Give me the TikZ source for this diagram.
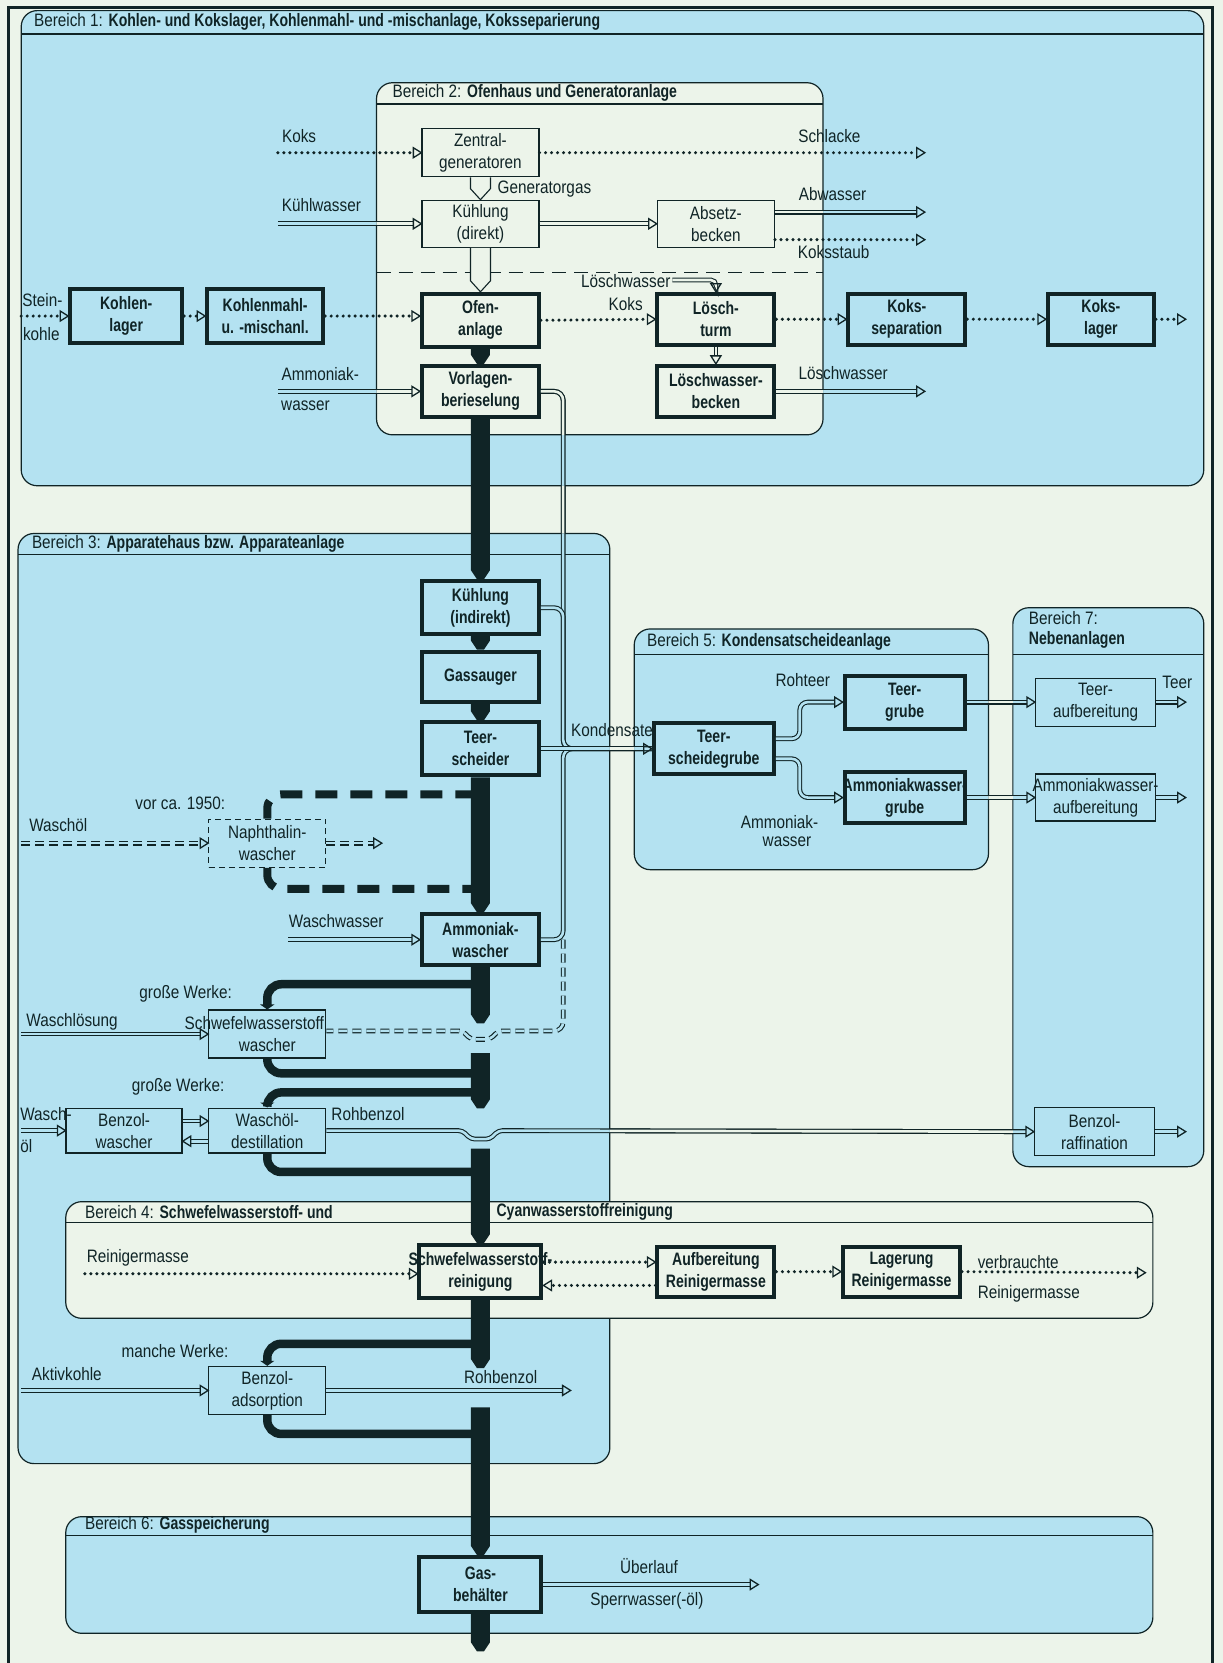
\documentclass[tikz,border=0pt]{standalone}
\usepackage{fontspec}
\setmainfont{Liberation Sans}[FakeStretch=0.85, BoldFeatures={FakeStretch=0.78}]
\usetikzlibrary{calc,arrows.meta}
\definecolor{bgc}{RGB}{236,244,234}
\definecolor{blu}{RGB}{180,226,241}
\definecolor{ink}{RGB}{16,36,38}
\newcommand\gasseg[2]{\fill[ink] let \p1=(#1), \p2=(#2) in (\x1-9.5pt,\y1) -- (\x1+9.5pt,\y1) -- (\x1+9.5pt,\y2+9pt) -- (\x1+3.5pt,\y2) -- (\x1-3.5pt,\y2) -- (\x1-9.5pt,\y2+9pt) -- cycle;}
\newcommand\hollowfun[2]{\draw[ink, line width=1.1pt, fill=bgc] let \p1=(#1), \p2=(#2) in (\x1-10pt,\y1) -- (\x1-10pt,\y2+11pt) -- (\x1,\y2) -- (\x1+10pt,\y2+11pt) -- (\x1+10pt,\y1);}
\newcommand\wide[1]{\makebox[0pt]{#1}}
\tikzset{
  lbl/.style={font=\fontsize{18}{21}\selectfont, inner sep=0pt, align=center, text=ink},
  hdr/.style={font=\fontsize{18}{21}\selectfont, inner sep=0pt, anchor=west, text=ink},
  thinbox/.style={draw=ink, line width=1.2pt, align=center, inner sep=0.5pt, text=ink, font=\fontsize{18}{22}\selectfont},
  boldbox/.style={draw=ink, line width=4pt, align=center, inner sep=0.5pt, text=ink, font=\fontsize{18}{22}\selectfont\bfseries},
  sz/.style 2 args={minimum width=#1, minimum height=#2},
  region/.style={draw=ink, line width=1.2pt, rounded corners=16pt},
  hline/.style={draw=ink, line width=1.2pt},
  dblB/.style={draw=ink, double=blu, double distance=2.6pt, line width=1.1pt},
  dblC/.style={draw=ink, double=bgc, double distance=2.6pt, line width=1.1pt},
  dotl/.style={draw=ink, line width=3.4pt, dash pattern=on 0pt off 6pt, line cap=round},
  te/.style={shorten >=8pt},
  br/.style={draw=ink, line width=8.5pt, rounded corners=14pt},
  brtip/.style={-{Triangle[length=5pt,width=14pt]}},
  brd/.style={draw=ink, line width=8pt, rounded corners=14pt, dash pattern=on 22pt off 13pt},
  otip/.pic={\draw[ink, line width=1.3pt, line join=miter] (0pt,0pt) -- (-8pt,5pt) -- (-8pt,-5pt) -- cycle;}
}
\begin{document}
\begin{tikzpicture}[x=1.0607pt, y=-1.0607pt]
\useasboundingbox (0,0) rectangle (1153,1568);
\fill[bgc] (0,0) rectangle (1153,1568);

% ---------- regions ----------
\filldraw[region, fill=blu] (20,10) rectangle (1135,458);
\draw[hline] (20,32) -- (1135,32);
\filldraw[region, fill=bgc] (355,78) rectangle (776,410);
\draw[hline] (355,98) -- (776,98);
\draw[ink, line width=1.1pt, dash pattern=on 14pt off 8pt] (355,257) -- (776,257);
\filldraw[region, fill=blu] (17,503) rectangle (575,1380);
\draw[hline] (17,523) -- (575,523);
\filldraw[region, fill=blu] (598,593) rectangle (932,820);
\draw[hline] (598,617) -- (932,617);
\filldraw[region, fill=blu] (955,573) rectangle (1135,1100);
\draw[hline] (955,617) -- (1135,617);
\filldraw[region, fill=bgc] (62,1133) rectangle (1087,1243);
\draw[hline] (62,1153) -- (1087,1153);
\filldraw[region, fill=blu] (62,1430) rectangle (1087,1540);
\draw[hline] (62,1448) -- (1087,1448);

\node[hdr] (h1) at (32,21) {Bereich 1: \textbf{Kohlen- und Kokslager, Kohlenmahl- und -mischanlage, Koksseparierung}};
\node[hdr] (h2) at (370,88) {Bereich 2: \textbf{Ofenhaus und Generatoranlage}};
\node[hdr] (h3) at (30,513) {Bereich 3: \textbf{Apparatehaus bzw. Apparateanlage}};
\node[hdr] (h4a) at (80,1143) {Bereich 4: \textbf{Schwefelwasserstoff- und}};
\node[hdr] (h4b) at (468,1143) {\textbf{Cyanwasserstoffreinigung}};
\node[hdr] (h5) at (610,605) {Bereich 5: \textbf{Kondensatscheideanlage}};
\node[hdr] (h6) at (80,1438) {Bereich 6: \textbf{Gasspeicherung}};
\node[hdr] (h7a) at (970,583) {Bereich 7:};
\node[hdr] (h7b) at (970,603) {\textbf{Nebenanlagen}};

% ---------- nodes ----------
\node[thinbox, sz={117pt}{48pt}] (zg) at (453,144) {Zentral-\\generatoren};
\node[thinbox, sz={117pt}{47pt}] (kd) at (453,211) {Kühlung\\(direkt)};
\node[thinbox, sz={117pt}{47pt}] (ab) at (675,211) {Absetz-\\becken};
\node[boldbox, sz={112pt}{54pt}] (kl) at (119,298) {Kohlen-\\lager};
\node[boldbox, sz={116pt}{54pt}] (km) at (250,298) {Kohlenmahl-\\u. -mischanl.};
\node[boldbox, sz={117pt}{53pt}] (of) at (453,302) {Ofen-\\anlage};
\node[boldbox, sz={117pt}{51pt}] (lt) at (675,301) {Lösch-\\turm};
\node[boldbox, sz={117pt}{51pt}] (ks) at (855,301) {Koks-\\separation};
\node[boldbox, sz={106pt}{51pt}] (kla) at (1038,301) {Koks-\\lager};
\node[boldbox, sz={117pt}{51pt}] (vb) at (453,369) {Vorlagen-\\berieselung};
\node[boldbox, sz={117pt}{51pt}] (lwb) at (675,369) {Löschwasser-\\becken};

\node[boldbox, sz={117pt}{53pt}] (ki) at (453,573) {Kühlung\\(indirekt)};
\node[boldbox, sz={117pt}{50pt}] (gs) at (453,638) {Gassauger};
\node[boldbox, sz={117pt}{53pt}] (ts) at (453,706) {Teer-\\scheider};
\node[thinbox, dash pattern=on 6pt off 4pt, sz={117pt}{48pt}] (nw) at (252,795) {Naphthalin-\\wascher};
\node[boldbox, sz={117pt}{51pt}] (am) at (453,886) {Ammoniak-\\wascher};
\node[thinbox, sz={117pt}{48pt}] (hw) at (252,975) {\wide{Schwefelwasserstoff\hspace{26pt}}\\wascher};
\node[thinbox, sz={116pt}{45pt}] (bw) at (117,1066) {Benzol-\\wascher};
\node[thinbox, sz={117pt}{45pt}] (wd) at (252,1066) {Waschöl-\\destillation};
\node[thinbox, sz={117pt}{48pt}] (ba) at (252,1311) {Benzol-\\adsorption};

\node[boldbox, sz={122pt}{53pt}] (hr) at (453,1199) {\wide{Schwefelwasserstoff-}\\reinigung};
\node[boldbox, sz={117pt}{50pt}] (au) at (675,1199) {Aufbereitung\\Reinigermasse};
\node[boldbox, sz={117pt}{50pt}] (lg) at (850,1199) {Lagerung\\Reinigermasse};
\node[boldbox, sz={122pt}{55pt}] (gb) at (453,1494) {Gas-\\behälter};

\node[boldbox, sz={120pt}{51pt}] (tsg) at (673,706) {Teer-\\scheidegrube};
\node[boldbox, sz={120pt}{53pt}] (tg) at (853,662) {Teer-\\grube};
\node[boldbox, sz={120pt}{51pt}] (ag) at (853,752) {\wide{Ammoniakwasser-}\\grube};
\node[thinbox, sz={120pt}{48pt}] (ta) at (1033,662) {Teer-\\aufbereitung};
\node[thinbox, sz={120pt}{47pt}] (aa) at (1033,752) {\wide{Ammoniakwasser-}\\aufbereitung};
\node[thinbox, sz={120pt}{48pt}] (brf) at (1032,1067) {Benzol-\\raffination};

% ---------- free ends ----------
\coordinate (kokin) at (262,144);
\coordinate (schl) at (872,144);
\coordinate (kwin) at (262,211);
\coordinate (abw) at (872,200);
\coordinate (kst) at (872,226);
\coordinate (skin) at (20,298);
\coordinate (kout) at (1118,301);
\coordinate (lwin) at (634,264);
\coordinate (lwout) at (872,369);
\coordinate (amin) at (262,369);
\coordinate (woin) at (20,795);
\coordinate (woout) at (360,795);
\coordinate (wwin) at (272,886);
\coordinate (wlin) at (20,975);
\coordinate (wo2in) at (20,1066);
\coordinate (akin) at (20,1311);
\coordinate (rb2) at (538,1311);
\coordinate (rmin) at (80,1201);
\coordinate (vrm) at (1080,1200);
\coordinate (ueb) at (715,1494);
\coordinate (teerout) at (1118,662);
\coordinate (aaout) at (1118,752);
\coordinate (brout) at (1118,1067);
\coordinate (t1) at (453,965);
\coordinate (r1) at (453,993);
\coordinate (t2) at (453,1045);
\coordinate (r2) at (453,1083);
\coordinate (t3) at (453,1290);
\coordinate (r3) at (453,1327);
\coordinate (t4) at (453,1557);

% ---------- dotted (solid material) flows ----------
\draw[dotl, te] (kokin) -- (zg.west); \pic at (zg.west) {otip};
\draw[dotl, te] (zg.east) -- (schl); \pic at (schl) {otip};
\draw[dotl, te] (ab.east |- kst) -- (kst); \pic at (kst) {otip};
\draw[dotl, te] (skin) -- (kl.west); \pic at (kl.west) {otip};
\draw[dotl, te] (kl.east) -- (km.west); \pic at (km.west) {otip};
\draw[dotl, te] (km.east) -- (of.west |- km.east); \pic at (of.west |- km.east) {otip};
\draw[dotl, te] (of.east) -- (lt.west); \pic at (lt.west) {otip};
\draw[dotl, te] (lt.east) -- (ks.west); \pic at (ks.west) {otip};
\draw[dotl, te] (ks.east) -- (kla.west); \pic at (kla.west) {otip};
\draw[dotl, te] (kla.east) -- (kout); \pic at (kout) {otip};
\draw[dotl, te] (rmin) -- (hr.west |- rmin); \pic at (hr.west |- rmin) {otip};
\draw[dotl, te] (hr.east |- 0,1190) -- (au.west |- 0,1190); \pic at (au.west |- 0,1190) {otip};
\draw[dotl, te] (au.west |- 0,1212) -- (hr.east |- 0,1212); \pic[rotate=180] at (hr.east |- 0,1212) {otip};
\draw[dotl, te] (au.east) -- (lg.west); \pic at (lg.west) {otip};
\draw[dotl, te] (lg.east) -- (vrm); \pic at (vrm) {otip};

% ---------- double (liquid) flows ----------
\draw[dblB, te] (kwin) -- (kd.west);
\begin{scope}\clip (355,190) rectangle (400,230); \draw[dblC, te] (kwin) -- (kd.west); \end{scope}
\pic at (kd.west) {otip};
\draw[dblC, te] (kd.east) -- (ab.west); \pic at (ab.west) {otip};
\draw[dblB, te] (ab.east |- abw) -- (abw);
\begin{scope}\clip (728,190) rectangle (776,210); \draw[dblC, te] (ab.east |- abw) -- (abw); \end{scope}
\pic at (abw) {otip};
\draw[dblC, te, rounded corners=5pt] (lwin) -- (lt.north |- lwin) -- (lt.north); \pic[rotate=-90] at (lt.north) {otip};
\draw[dblC, te] (lt.south) -- (lwb.north); \pic[rotate=-90] at (lwb.north) {otip};
\draw[dblB, te] (lwb.east) -- (lwout);
\begin{scope}\clip (728,360) rectangle (776,380); \draw[dblC, te] (lwb.east) -- (lwout); \end{scope}
\pic at (lwout) {otip};
\draw[dblB, te] (amin) -- (vb.west);
\begin{scope}\clip (355,360) rectangle (400,380); \draw[dblC, te] (amin) -- (vb.west); \end{scope}
\pic at (vb.west) {otip};

\hollowfun{zg.south}{kd.north}
\hollowfun{kd.south}{of.north}

% Kondensate network
\draw[dblB, rounded corners=9pt] (vb.east) -- (531,369) -- (531,706) -- (tsg.west);
\begin{scope}\clip (505,360) rectangle (560,410) (505,458) rectangle (560,503);
\draw[dblC, rounded corners=9pt] (vb.east) -- (531,369) -- (531,706) -- (tsg.west);
\end{scope}
\draw[dblB, rounded corners=9pt] (ki.east) -- (531,573) -- (531,706) -- (tsg.west);
\draw[dblB, rounded corners=9pt, dash pattern=on 9pt off 5pt] (531,886) -- (531,972) [rounded corners=4pt] -- (470,972) -- (462,980) -- (444,980) -- (436,972) -- (hw.east |- 0,972);
\draw[dblB, rounded corners=9pt] (am.east) -- (531,886) -- (531,706) -- (tsg.west);
\draw[dblB, te] (ts.east) -- (tsg.west);
\begin{scope}\clip (575,690) rectangle (598,720); \draw[dblC, te] (ts.east) -- (tsg.west); \end{scope}
\pic at (tsg.west) {otip};

\draw[dblB, te, rounded corners=8pt] ([yshift=10pt]tsg.east) -- ++(24pt,0pt) |- (tg.west); \pic at (tg.west) {otip};
\draw[dblB, te, rounded corners=8pt] ([yshift=-10pt]tsg.east) -- ++(24pt,0pt) |- (ag.west); \pic at (ag.west) {otip};
\draw[dblB, te] (tg.east) -- (ta.west);
\begin{scope}\clip (932,650) rectangle (955,675); \draw[dblC, te] (tg.east) -- (ta.west); \end{scope}
\pic at (ta.west) {otip};
\draw[dblB, te] (ag.east) -- (aa.west);
\begin{scope}\clip (932,740) rectangle (955,765); \draw[dblC, te] (ag.east) -- (aa.west); \end{scope}
\pic at (aa.west) {otip};
\draw[dblB, te] (ta.east) -- (teerout); \pic at (teerout) {otip};
\draw[dblB, te] (aa.east) -- (aaout); \pic at (aaout) {otip};
\draw[dblB, te] (brf.east) -- (brout); \pic at (brout) {otip};

% Bereich 3 liquids
\draw[dblB, te, dash pattern=on 9pt off 5pt] (woin) -- (nw.west); \pic at (nw.west) {otip};
\draw[dblB, te, dash pattern=on 9pt off 5pt] (nw.east) -- (woout); \pic at (woout) {otip};
\draw[dblB, te] (wwin) -- (am.west); \pic at (am.west) {otip};
\draw[dblB, te] (wlin) -- (hw.west); \pic at (hw.west) {otip};
\draw[dblB, te] (wo2in) -- (bw.west); \pic at (bw.west) {otip};
\draw[dblB, te] (bw.east |- 0,1057) -- (wd.west |- 0,1057); \pic at (wd.west |- 0,1057) {otip};
\draw[dblB, te] (wd.west |- 0,1076) -- (bw.east |- 0,1076); \pic[rotate=180] at (bw.east |- 0,1076) {otip};
\draw[dblB, te, rounded corners=4pt] (wd.east) -- (436,1066) -- (444,1074) -- (462,1074) -- (470,1066) -- (brf.west);
\begin{scope}\clip (575,1050) rectangle (955,1085);
\draw[dblC, te, rounded corners=4pt] (wd.east) -- (436,1066) -- (444,1074) -- (462,1074) -- (470,1066) -- (brf.west);
\end{scope}
\pic at (brf.west) {otip};
\draw[dblB, te] (akin) -- (ba.west); \pic at (ba.west) {otip};
\draw[dblB, te] (ba.east) -- (rb2); \pic at (rb2) {otip};
\draw[dblB, te] (gb.east) -- (ueb); \pic at (ueb) {otip};

% ---------- gas branches ----------
\draw[brd] (450,749) -| (nw.north);
\draw[brd] (nw.south) |- (450,838);
\draw[br, brtip] (450,928) -| (hw.north);
\draw[br] (hw.south) |- (450,1012);
\draw[br, brtip] (450,1030) -| (wd.north);
\draw[br] (wd.south) |- (450,1105);
\draw[br, brtip] (450,1267) -| (ba.north);
\draw[br] (ba.south) |- (450,1352);

% ---------- main gas column ----------
\gasseg{of.south}{vb.north}
\gasseg{vb.south}{ki.north}
\gasseg{ki.south}{gs.north}
\gasseg{gs.south}{ts.north}
\gasseg{ts.south}{am.north}
\gasseg{am.south}{t1}
\gasseg{r1}{t2}
\gasseg{r2}{hr.north}
\gasseg{hr.south}{t3}
\gasseg{r3}{gb.north}
\gasseg{gb.south}{t4}

% ---------- labels ----------
\node[lbl] (lkoks) at (282,128) {Koks};
\node[lbl] (lschl) at (782,128) {Schlacke};
\node[lbl] (lkw) at (303,193) {Kühlwasser};
\node[lbl, anchor=west] (lgg) at (469,178) {Generatorgas};
\node[lbl] (labw) at (785,183) {Abwasser};
\node[lbl] (lkst) at (786,238) {Koksstaub};
\node[lbl] (lst1) at (40,283) {Stein-};
\node[lbl] (lst2) at (39,315) {kohle};
\node[lbl] (llw1) at (590,265) {Löschwasser};
\node[lbl] (lkoks2) at (590,287) {Koks};
\node[lbl] (lam1) at (302,353) {Ammoniak-};
\node[lbl] (lam2) at (288,383) {wasser};
\node[lbl] (llw2) at (795,352) {Löschwasser};
\node[lbl] (lvor) at (170,757) {vor ca. 1950:};
\node[lbl] (lwo) at (55,778) {Waschöl};
\node[lbl] (lww) at (317,868) {Waschwasser};
\node[lbl] (lgw1) at (175,937) {große Werke:};
\node[lbl] (lwl) at (68,963) {Waschlösung};
\node[lbl] (lgw2) at (168,1025) {große Werke:};
\node[lbl, anchor=west] (lwo2a) at (19,1050) {Wasch-};
\node[lbl, anchor=west] (lwo2b) at (19,1081) {öl};
\node[lbl] (lrb1) at (347,1050) {Rohbenzol};
\node[lbl] (lrm) at (130,1186) {Reinigermasse};
\node[lbl] (lvb1) at (960,1190) {verbrauchte};
\node[lbl] (lvb2) at (970,1220) {Reinigermasse};
\node[lbl] (lmw) at (165,1274) {manche Werke:};
\node[lbl] (lak) at (63,1296) {Aktivkohle};
\node[lbl] (lrb2) at (472,1298) {Rohbenzol};
\node[lbl] (lue) at (612,1477) {Überlauf};
\node[lbl] (lsp) at (610,1509) {Sperrwasser(-öl)};
\node[lbl] (lrt) at (757,641) {Rohteer};
\node[lbl] (laq1) at (735,775) {Ammoniak-};
\node[lbl] (laq2) at (742,794) {wasser};
\node[lbl] (lkond) at (577,688) {Kondensate};
\node[lbl] (lteer) at (1110,643) {Teer};

% ---------- frame ----------
\draw[ink, line width=2.5pt] (8,1600) -- (8,7) -- (1143,7) -- (1143,1600);
\end{tikzpicture}
\end{document}
